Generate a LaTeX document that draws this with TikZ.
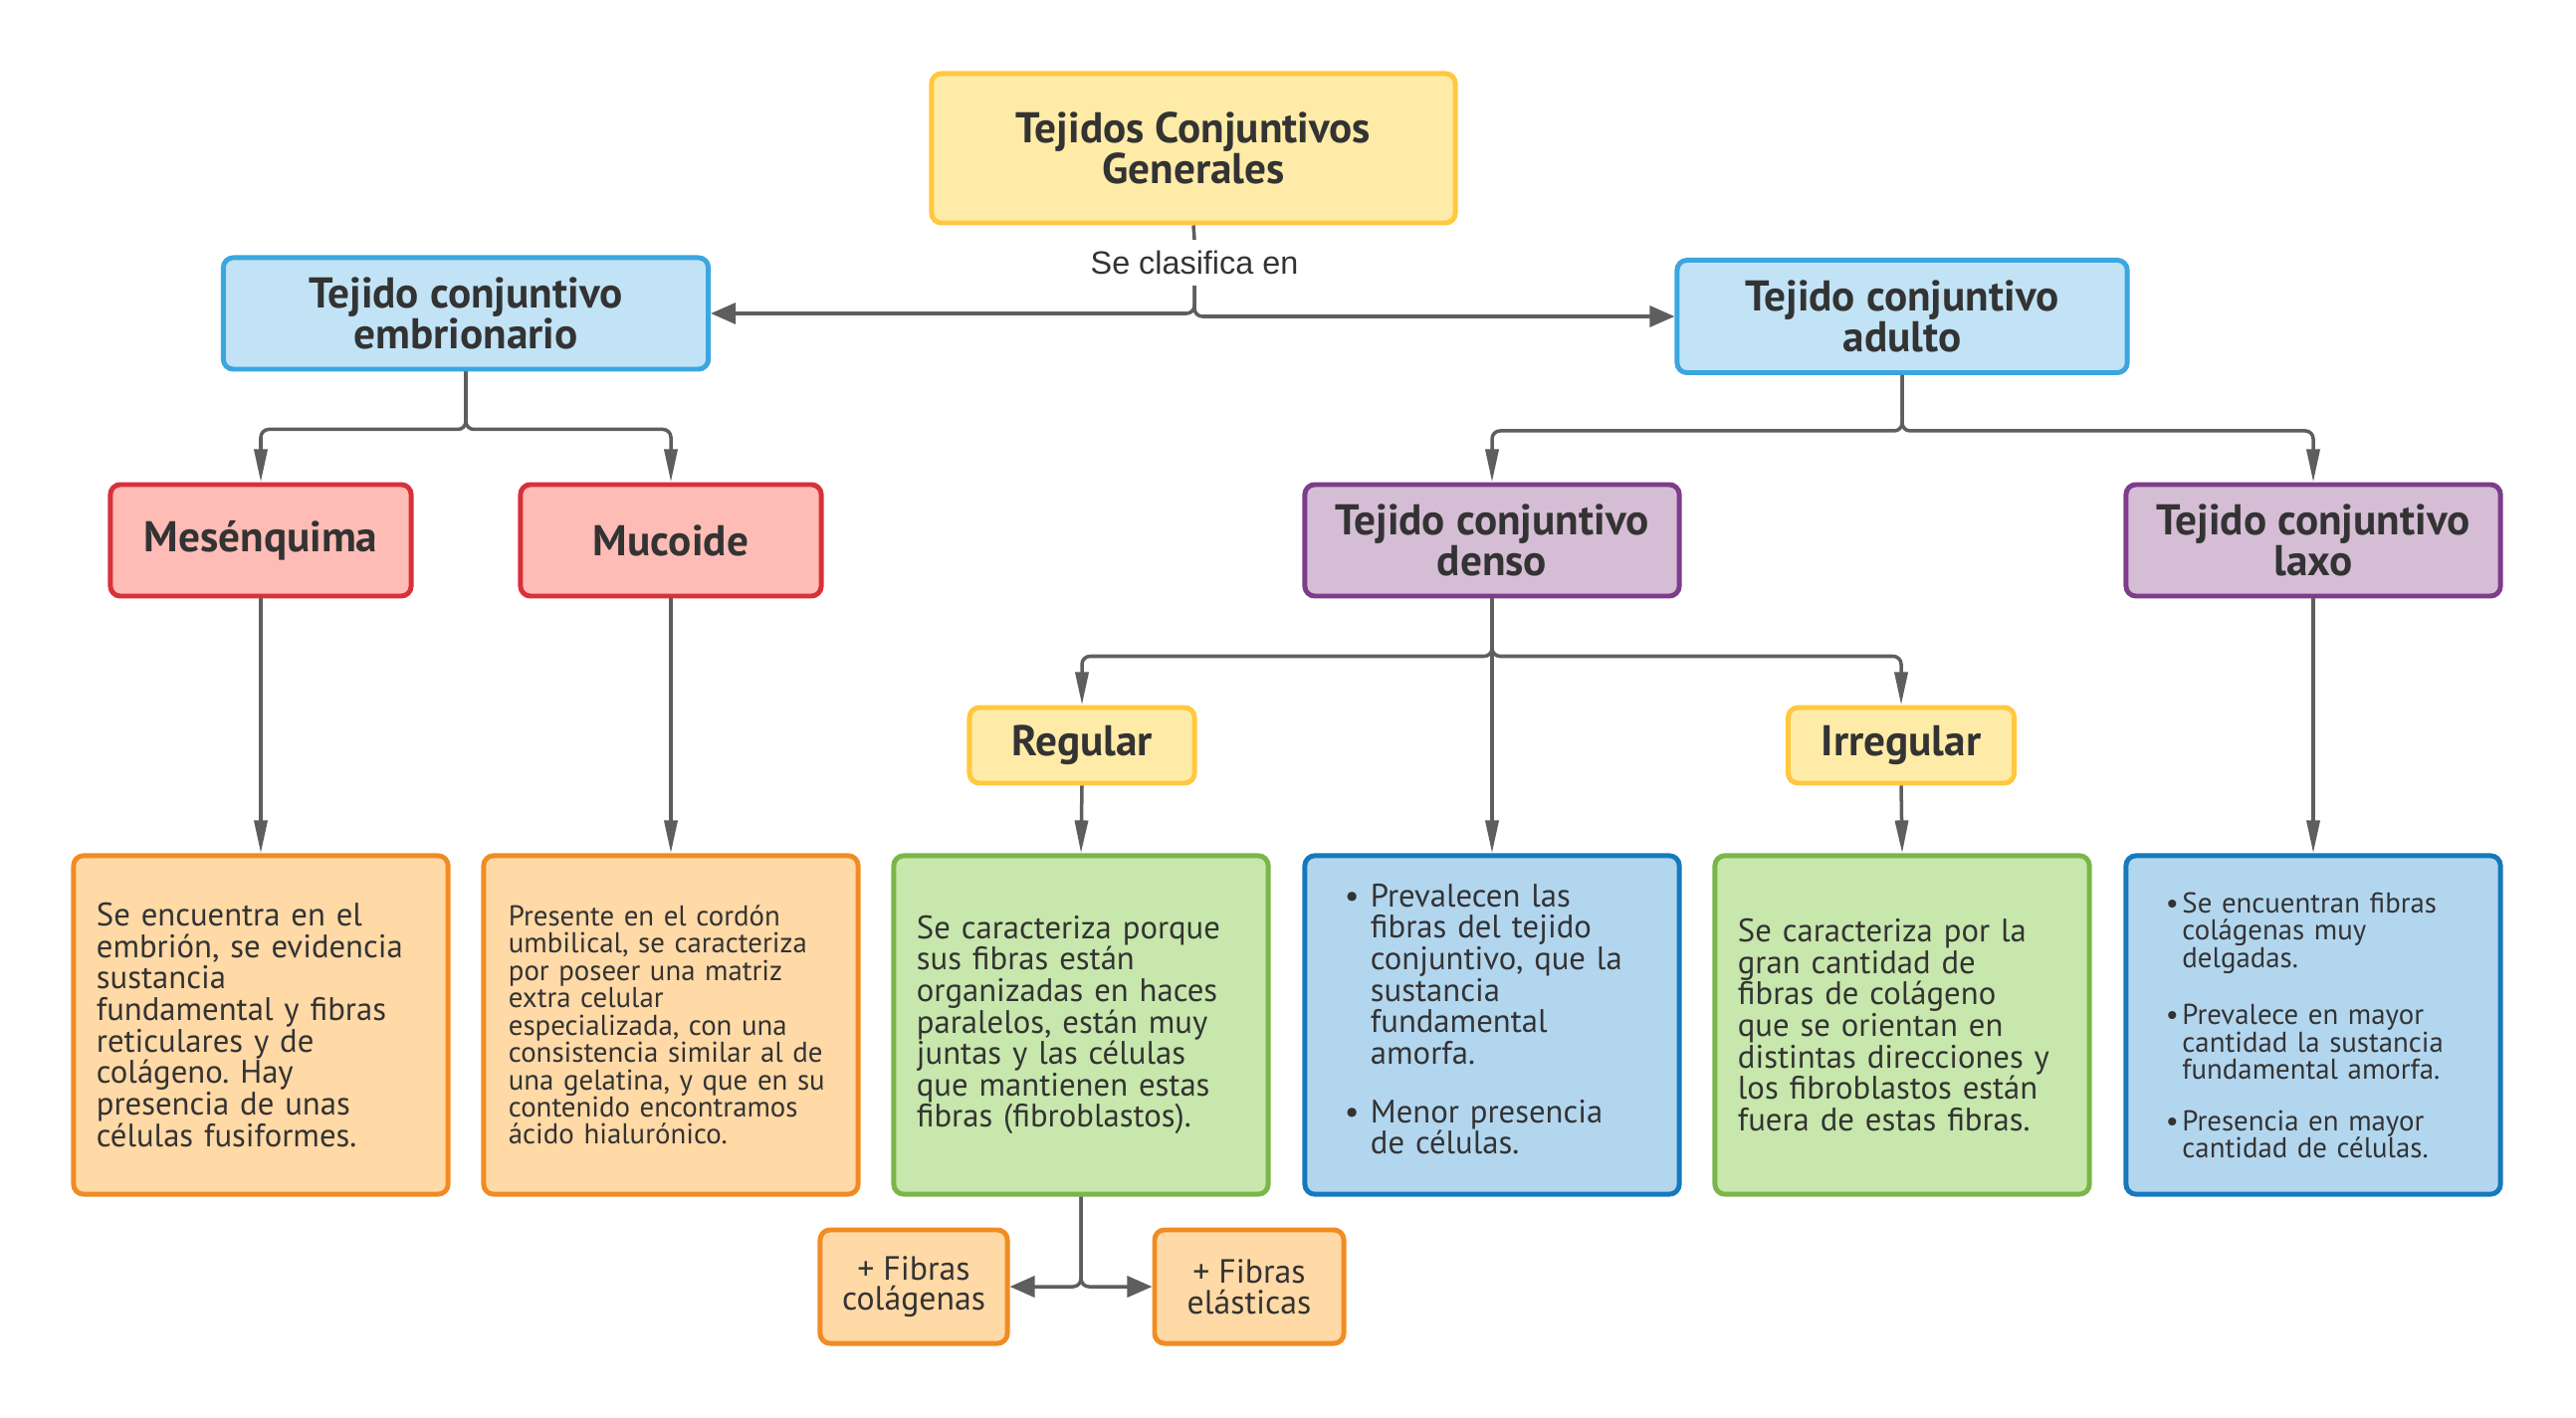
\documentclass[tikz,border=0pt]{standalone}
\usepackage{fontspec}
\setmainfont{PT Sans}
\newfontfamily\labelfont{Liberation Sans}
\usetikzlibrary{arrows.meta}
\frenchspacing

\definecolor{txt}{HTML}{333333}
\definecolor{linegray}{HTML}{5E5E5E}
\definecolor{yelfill}{HTML}{FFEBA8}
\definecolor{yelline}{HTML}{FFC83D}
\definecolor{cyanfill}{HTML}{C2E3F6}
\definecolor{cyanline}{HTML}{3BA6DF}
\definecolor{redfill}{HTML}{FFBCB6}
\definecolor{redline}{HTML}{D9303A}
\definecolor{purfill}{HTML}{D5BED5}
\definecolor{purline}{HTML}{7D3C8C}
\definecolor{orgfill}{HTML}{FFD9A6}
\definecolor{orgline}{HTML}{F08C23}
\definecolor{grnfill}{HTML}{C7E7AC}
\definecolor{grnline}{HTML}{7AB648}
\definecolor{bluefill}{HTML}{B3D6EF}
\definecolor{blueline}{HTML}{1679BD}

\newcommand{\bigtext}{\fontsize{9.3}{9}\selectfont}
\newcommand{\smalltext}{\fontsize{8.2}{7.8}\selectfont}
\newcommand{\bul}[2]{\par\noindent\makebox[#1][l]{\textbullet}\parbox[t]{\dimexpr\linewidth-#1\relax}{\raggedright #2}\par}

\begin{document}
\begin{tikzpicture}[x=0.01cm,y=-0.01cm,
        box/.style={draw,rounded corners=0.1cm,line width=1.4pt,text=txt,inner sep=0pt},
        head/.style={box,align=center,font=\bfseries\fontsize{12.3}{11.6}\selectfont},
        body/.style={box,align=left,minimum height=3.4cm,inner xsep=0.23cm,text width=3.3cm},
        yel/.style={fill=yelfill,draw=yelline},
        cyan/.style={fill=cyanfill,draw=cyanline},
        red/.style={fill=redfill,draw=redline},
        pur/.style={fill=purfill,draw=purline},
        org/.style={fill=orgfill,draw=orgline},
        grn/.style={fill=grnfill,draw=grnline},
        blu/.style={fill=bluefill,draw=blueline},
        conn/.style={draw=linegray,line width=1pt},
        arr/.style={conn,-{Triangle[length=0.33cm,width=0.13cm]}},
        harr/.style={conn,-{Triangle[length=0.25cm,width=0.21cm]}}]

    \useasboundingbox (0,0) rectangle (2588,1425);

    % top levels
    \node[head,yel,minimum width=5.26cm,minimum height=1.5cm] (title) at (1199,149) {Tejidos Conjuntivos\\Generales};
    \node[text=txt,font=\labelfont\fontsize{9.2}{10}\selectfont,inner sep=3pt] (lbl) at (1200,264) {Se clasifica en};
    \node[head,cyan,minimum width=4.87cm,minimum height=1.12cm] (embr) at (468,315) {Tejido conjuntivo\\embrionario};
    \node[head,cyan,minimum width=4.52cm,minimum height=1.13cm] (adulto) at (1911,318) {Tejido conjuntivo\\adulto};

    \node[head,red,minimum width=3.02cm,minimum height=1.12cm] (mes) at (262,543) {Mesénquima};
    \node[head,red,minimum width=3.02cm,minimum height=1.12cm] (muc) at (674,543) {Mucoide};
    \node[head,pur,minimum width=3.76cm,minimum height=1.12cm] (denso) at (1499,543) {Tejido conjuntivo\\denso};
    \node[head,pur,minimum width=3.76cm,minimum height=1.12cm] (laxo) at (2324,543) {Tejido conjuntivo\\laxo};

    \node[head,yel,minimum width=2.26cm,minimum height=0.76cm] (regular) at (1087,749) {Regular};
    \node[head,yel,minimum width=2.27cm,minimum height=0.76cm] (irregular) at (1910,749) {Irregular};

    % descriptions
    \node[body,org,font=\bigtext] (dmes) at (262,1030) {Se encuentra en el\\embrión, se evidencia\\sustancia\\fundamental y fibras\\reticulares y de\\colágeno. Hay\\presencia de unas\\células fusiformes.};
    \node[body,org,font=\smalltext,inner xsep=0.25cm,text width=3.26cm] (dmuc) at (674,1030) {Presente en el cordón\\umbilical, se caracteriza\\por poseer una matriz\\extra celular\\especializada, con una\\consistencia similar al de\\una gelatina, y que en su\\contenido encontramos\\ácido hialurónico.};
    \node[body,grn,font=\bigtext] (dreg) at (1086,1030) {Se caracteriza porque\\sus fibras están\\organizadas en haces\\paralelos, están muy\\juntas y las células\\que mantienen estas\\fibras (fibroblastos).};
    \node[body,blu,font=\bigtext,inner xsep=0.4cm,text width=2.96cm] (dden) at (1499,1030) {%
        \bul{0.26cm}{Prevalecen las\\fibras del tejido\\conjuntivo, que la\\sustancia\\fundamental\\amorfa.}
        \vspace{\baselineskip}
        \bul{0.26cm}{Menor presencia\\de células.}
        \vspace{0.2cm}};
    \node[body,grn,font=\bigtext] (dirr) at (1911,1030) {Se caracteriza por la\\gran cantidad de\\fibras de colágeno\\que se orientan en\\distintas direcciones y\\los fibroblastos están\\fuera de estas fibras.};
    \node[body,blu,font=\smalltext,inner xsep=0.4cm,text width=2.96cm] (dlaxo) at (2324,1030) {%
        \bul{0.165cm}{Se encuentran fibras\\colágenas muy\\delgadas.}
        \vspace{\baselineskip}
        \bul{0.165cm}{Prevalece en mayor\\cantidad la sustancia\\fundamental amorfa.}
        \vspace{\baselineskip}
        \bul{0.165cm}{Presencia en mayor\\cantidad de células.}
        \vspace{0.06cm}};

    \node[box,org,align=center,font=\fontsize{9.6}{8.7}\selectfont,minimum width=1.88cm,minimum height=1.14cm] (fcol) at (918,1293) {+ Fibras\\colágenas};
    \node[box,org,align=center,font=\fontsize{9.6}{8.7}\selectfont,minimum width=1.9cm,minimum height=1.14cm] (fela) at (1255,1293) {+ Fibras\\elásticas};

    % connectors
    \draw[conn] (title.south) -- (lbl.north);
    \draw[harr,rounded corners=0.08cm] (lbl.south) |- (embr.east);
    \draw[harr,rounded corners=0.08cm] (lbl.south) |- (adulto.west);

    \draw[arr,rounded corners=0.08cm] (embr.south) -- ++(0,58) -| (mes.north);
    \draw[arr,rounded corners=0.08cm] (embr.south) -- ++(0,58) -| (muc.north);
    \draw[arr,rounded corners=0.08cm] (adulto.south) -- ++(0,56) -| (denso.north);
    \draw[arr,rounded corners=0.08cm] (adulto.south) -- ++(0,56) -| (laxo.north);
    \draw[arr,rounded corners=0.08cm] (denso.south) -- ++(0,58) -| (regular.north);
    \draw[arr,rounded corners=0.08cm] (denso.south) -- ++(0,58) -| (irregular.north);

    \draw[arr] (mes.south) -- (dmes.north);
    \draw[arr] (muc.south) -- (dmuc.north);
    \draw[arr] (regular.south) -- (dreg.north);
    \draw[arr] (denso.south) -- (dden.north);
    \draw[arr] (irregular.south) -- (dirr.north);
    \draw[arr] (laxo.south) -- (dlaxo.north);

    \draw[harr,rounded corners=0.08cm] (dreg.south) |- (fcol.east);
    \draw[harr,rounded corners=0.08cm] (dreg.south) |- (fela.west);
\end{tikzpicture}
\end{document}
